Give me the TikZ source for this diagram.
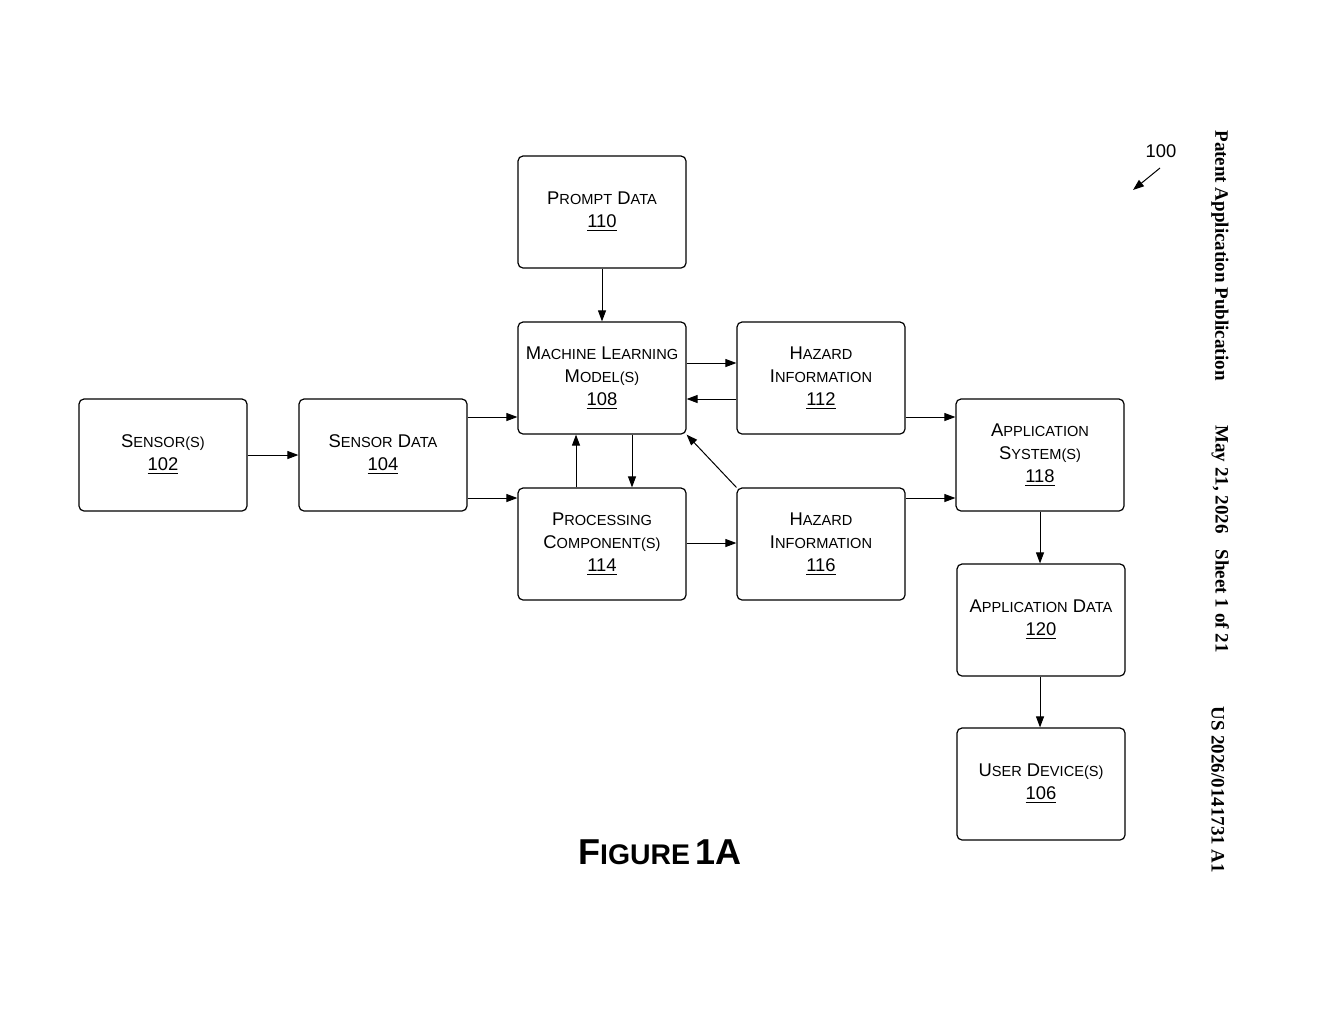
\documentclass[tikz,border=0pt]{standalone}
\usepackage{fontspec}
\setmainfont{Liberation Sans}
\newfontfamily\serifb{Liberation Serif}
\usetikzlibrary{arrows.meta}
\newcommand{\SC}[2]{{\fontsize{9.2}{11}\selectfont #1}{\fontsize{7.3}{11}\selectfont #2}}
\begin{document}
\begin{tikzpicture}[x=0.5pt,y=-0.5pt,
  box/.style={draw,line width=0.6pt,rounded corners=2.5pt,minimum width=84pt,minimum height=56pt,align=center,font=\fontsize{9.2}{11.5}\selectfont,inner sep=1pt},
  arr/.style={-{Triangle[length=5.5pt,width=4pt]},line width=0.5pt}]
\useasboundingbox (0,0) rectangle (1320,1024);
\node[box] (p110) at (602,212) {\SC{P}{ROMPT} \SC{D}{ATA}\\\underline{110}};
\node[box] (m108) at (602,378) {\SC{M}{ACHINE} \SC{L}{EARNING}\\\SC{M}{ODEL(S)}\\\underline{108}};
\node[box] (h112) at (821,378) {\SC{H}{AZARD}\\\SC{I}{NFORMATION}\\\underline{112}};
\node[box] (s102) at (163,455) {\SC{S}{ENSOR(S)}\\\underline{102}};
\node[box] (s104) at (383,455) {\SC{S}{ENSOR} \SC{D}{ATA}\\\underline{104}};
\node[box] (p114) at (602,544) {\SC{P}{ROCESSING}\\\SC{C}{OMPONENT(S)}\\\underline{114}};
\node[box] (h116) at (821,544) {\SC{H}{AZARD}\\\SC{I}{NFORMATION}\\\underline{116}};
\node[box] (a118) at (1040,455) {\SC{A}{PPLICATION}\\\SC{S}{YSTEM(S)}\\\underline{118}};
\node[box] (a120) at (1041,620) {\SC{A}{PPLICATION} \SC{D}{ATA}\\\underline{120}};
\node[box] (u106) at (1041,784) {\SC{U}{SER} \SC{D}{EVICE(S)}\\\underline{106}};

\draw[arr] (p110.south) -- (m108.north);
\draw[arr] (s102.east) -- (s104.west);
\draw[arr] (s104.east |- 0,417) -- (m108.west |- 0,417);
\draw[arr] (s104.east |- 0,498) -- (p114.west |- 0,498);
\draw[arr] (m108.east |- 0,363) -- (h112.west |- 0,363);
\draw[arr] (h112.west |- 0,399) -- (m108.east |- 0,399);
\draw[arr] (p114.north -| 576,0) -- (m108.south -| 576,0);
\draw[arr] (m108.south -| 632,0) -- (p114.north -| 632,0);
\draw[arr] (p114.east |- 0,543) -- (h116.west |- 0,543);
\draw[arr] (h116.north west) -- (m108.south east);
\draw[arr] (h112.east |- 0,417) -- (a118.west |- 0,417);
\draw[arr] (h116.east |- 0,498) -- (a118.west |- 0,498);
\draw[arr] (a118.south -| 1040,0) -- (a120.north -| 1040,0);
\draw[arr] (a120.south -| 1040,0) -- (u106.north -| 1040,0);

\node[font=\fontsize{9.2}{11}\selectfont] (n100) at (1161,151) {100};
\coordinate (t100) at (1133,190);
\draw[arr] (1160,168) -- (t100);
\node[font=\bfseries] (fig) at (660,852) {{\fontsize{18}{20}\selectfont F}{\fontsize{14.2}{20}\selectfont IGURE} {\fontsize{18}{20}\selectfont 1A}};

\node[font=\serifb\bfseries\fontsize{9.5}{11}\selectfont,rotate=-90,anchor=south west,inner sep=0pt] (v1) at (1211,130) {Patent Application Publication};
\node[font=\serifb\bfseries\fontsize{9.5}{11}\selectfont,rotate=-90,anchor=south west,inner sep=0pt] (v2) at (1211,425) {May 21, 2026\hspace{0.6em} Sheet 1 of 21};
\node[font=\serifb\bfseries\fontsize{9.5}{11}\selectfont,rotate=-90,anchor=south west,inner sep=0pt] (v3) at (1211,706) {US 2026/0141731 A1};
\end{tikzpicture}
\end{document}
